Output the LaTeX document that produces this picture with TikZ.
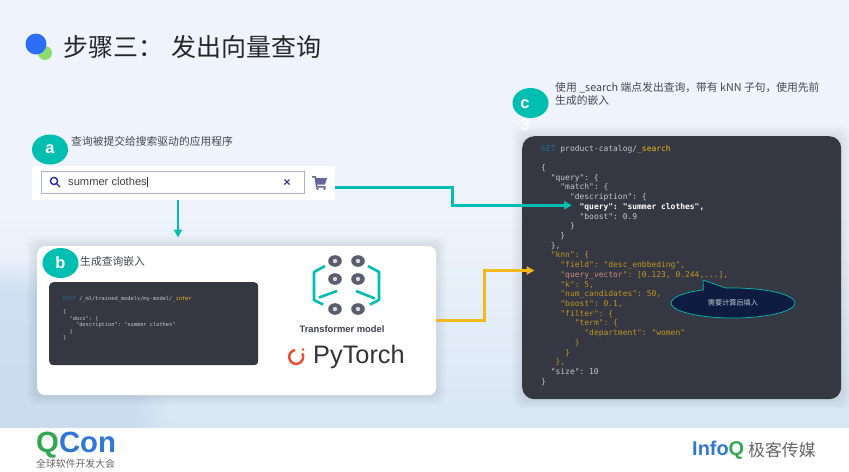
\documentclass[tikz,border=0pt]{standalone}
\usepackage{fontspec}
\setmainfont{Liberation Sans}
\setmonofont{DejaVu Sans Mono}
\newfontfamily\cjk{Noto Sans CJK SC}
\usetikzlibrary{arrows.meta,shapes.geometric,shapes.callouts,backgrounds,fadings}

\definecolor{bgtop}{HTML}{EEF3FC}
\definecolor{bgbottom}{HTML}{D8E7F4}
\definecolor{bgcorner}{HTML}{C4DAEE}
\definecolor{tealc}{HTML}{00BFB0}
\definecolor{goldc}{HTML}{F5B81C}
\definecolor{panelc}{HTML}{353742}
\definecolor{codegrey}{HTML}{C6C8CF}
\definecolor{codegold}{HTML}{C2961F}
\definecolor{codepink}{HTML}{CF8A7C}
\definecolor{codeblue}{HTML}{1F6C98}
\definecolor{navyc}{HTML}{0F1C42}
\definecolor{ringc}{HTML}{5A5D6E}
\definecolor{torchc}{HTML}{EE4C2C}
\definecolor{labelc}{HTML}{444750}
\definecolor{dotblue}{HTML}{2B6FF7}
\definecolor{dotgreen}{HTML}{8EDB6E}
\definecolor{logogreen}{HTML}{2FA84F}
\definecolor{logoblue}{HTML}{2F78D8}
\definecolor{boxline}{HTML}{A9AFD6}

\def\px{0.03cm}
\newcommand{\ind}[1]{\hspace*{\dimexpr #1\fontcharwd\font`0\relax}}
\newcommand{\softshadow}[1]{%
  \foreach \d in {2,4,...,10}
    \fill[black, opacity=0.014, rounded corners=10*\px]
      ([shift={(-\d,-\d)}]#1.north west) rectangle ([shift={(\d,\d)}]#1.south east);
}

\tikzset{
  badge/.style={ellipse, fill=tealc, text=white, inner sep=0, minimum width=36*\px, minimum height=30*\px, font=\fontsize{14}{14}\selectfont\bfseries},
  steplabel/.style={anchor=west, inner sep=0, text=labelc, font=\fontsize{9.2}{11.1}\selectfont\cjk, align=left},
  whitepanel/.style={anchor=north west, fill=white, inner sep=0},
  darkpanel/.style={anchor=north west, fill=panelc, inner sep=0, rounded corners=10*\px},
  codetext/.style={anchor=north west, inner sep=0, align=left, text=codegrey, font=\fontsize{6.8}{8.29}\selectfont\ttfamily},
  smallcode/.style={anchor=north west, inner sep=0, align=left, text=codegrey, font=\fontsize{4.55}{5.55}\selectfont\ttfamily},
  tealline/.style={draw=tealc, line width=2.9*\px, -{Triangle[length=8*\px, width=8*\px]}},
  goldline/.style={draw=goldc, line width=2.9*\px, -{Triangle[length=8*\px, width=8*\px]}},
  logoline/.style={draw=tealc, line width=2.6*\px, line join=round},
}

\begin{document}
\begin{tikzpicture}[x=0.03cm, y=-0.03cm]
  \useasboundingbox (0,0) rectangle (849,471);

  \begin{pgfonlayer}{background}
    \shade[top color=bgtop, bottom color=bgbottom, middle color=bgtop] (0,0) rectangle (849,428);
    \begin{scope}
      \clip (0,0) rectangle (849,428);
      \fill[bgcorner, path fading=circle with fuzzy edge 20 percent, opacity=0.7] (0,428) circle (170);
    \end{scope}
  \end{pgfonlayer}
  \fill[white] (0,428) rectangle (849,471);

  % title
  \fill[dotgreen] (45,53) circle (7);
  \fill[dotblue] (36,44) circle (10.5);
  \node[anchor=west, inner sep=0, text=black!85, font=\fontsize{21.3}{24}\selectfont\cjk] (title) at (63.5,47) {步骤三：\hspace{2pt} 发出向量查询};

  % step a
  \node[whitepanel, minimum width=303*\px, minimum height=34*\px] (searchbar) at (32,166) {};
  \node[anchor=north west, draw=boxline, fill=white, line width=0.9*\px, inner sep=0, minimum width=263*\px, minimum height=22*\px] (searchbox) at (41,171) {};
  \node[anchor=west, inner sep=0, text=black!75, font=\fontsize{9.5}{11}\selectfont] (searchtext) at (68,182) {summer clothes};
  \draw[black!80, line width=0.6*\px] (147.5,177) -- (147.5,187);
  \draw[blue!70!black!85, line width=1.4*\px] (54,181) circle (3.6) (57,184) -- (60,187);
  \draw[blue!40!black!75, line width=1.3*\px] (284.5,179.5) -- (289.5,184.5) (289.5,179.5) -- (284.5,184.5);
  \fill[gray!80!blue] (312,176) -- (315.5,176) -- (316.5,178) -- (327,178) -- (325,184.5) -- (317,184.5) -- (317.5,186) -- (325.5,186) -- (325.5,187.5) -- (316,187.5) -- (314.5,177.5) -- (312,177.5) -- cycle;
  \fill[gray!80!blue] (317.5,188.8) circle (1.4) (324.5,188.8) circle (1.4);
  \node[badge] (stepa) at (50,149.5) {a};
  \node[steplabel] (labela) at (71,141) {查询被提交给搜索驱动的应用程序};

  % step b
  \node[whitepanel, rounded corners=8*\px, minimum width=399*\px, minimum height=149*\px] (panelb) at (37,246) {};
  \node[darkpanel, rounded corners=4*\px, minimum width=209*\px, minimum height=83*\px] (codeb) at (49,282) {};
  \node[smallcode] (infer) at (63,296.2) {%
    \textcolor{codeblue}{POST} /\_ml/trained\_models/my-model/\textcolor{goldc}{\_infer}\\
    \mbox{}\\
    \{\\
    \ind{2}"docs": \{\\
    \ind{4}"description": "summer clothes"\\
    \ind{2}\}\\
    \}};
  \node[badge] (stepb) at (60.5,263) {b};
  \node[steplabel] (labelb) at (80,261.5) {生成查询嵌入};

  % transformer icon
  \foreach \cx in {335,358}
    \foreach \cy in {261,279,309} {
      \fill[ringc] (\cx,\cy) ellipse (6.8 and 5.8);
      \fill[black!15] (\cx,\cy) circle (2.2);
    }
  \draw[logoline] (325,266) -- (314,272) -- (314,300) -- (323,304.5);
  \draw[logoline] (337,291) -- (319,297.5);
  \draw[logoline] (368,266) -- (379,272) -- (379,300) -- (370,304.5);
  \draw[logoline] (356,291) -- (375,298.5);
  \node[inner sep=0, text=ringc!70!black, font=\fontsize{8}{10}\selectfont\bfseries] (transformer) at (342,329) {Transformer model};
  \draw[torchc, line width=2.4*\px] (295,350) arc[start angle=100, end angle=390, radius=0.21cm];
  \fill[torchc] (303,349.5) circle (1.3);
  \node[anchor=west, inner sep=0, text=black!80, font=\fontsize{21.6}{24}\selectfont] (pytorch) at (313,357) {PyTorch};

  % step c
  \node[darkpanel, rounded corners=12*\px, minimum width=319*\px, minimum height=263*\px] (panelc) at (522,136) {};
  \node[codetext] (searchcode) at (541,144.8) {%
    \textcolor{codeblue}{GET} product-catalog/\textcolor{goldc}{\_search}\\
    \mbox{}\\
    \{\\
    \ind{2}"query": \{\\
    \ind{4}"match": \{\\
    \ind{6}"description": \{\\
    \ind{8}\textcolor{white}{\bfseries"query": "summer clothes",}\\
    \ind{8}"boost": 0.9\\
    \ind{6}\}\\
    \ind{4}\}\\
    \ind{2}\},\\
    \textcolor{codegold}{\ind{2}"knn": \{}\\
    \textcolor{codegold}{\ind{4}"field": "desc\_enbbeding",}\\
    \textcolor{codegold}{\ind{4}"\textcolor{codepink}{query\_vector}": [0.123, 0.244,...],}\\
    \textcolor{codegold}{\ind{4}"k": 5,}\\
    \textcolor{codegold}{\ind{4}"num\_candidates": 50,}\\
    \textcolor{codegold}{\ind{4}"boost": 0.1,}\\
    \textcolor{codegold}{\ind{4}"filter": \{}\\
    \textcolor{codegold}{\ind{7}"term": \{}\\
    \textcolor{codegold}{\ind{9}"department": "women"}\\
    \textcolor{codegold}{\ind{7}\}}\\
    \textcolor{codegold}{\ind{5}\}}\\
    \textcolor{codegold}{\ind{3}\},}\\
    \ind{2}"size": 10\\
    \}};
  \node[ellipse callout, draw=tealc, fill=navyc, line width=0.7*\px, inner sep=0, minimum width=124*\px, minimum height=30*\px, callout absolute pointer={(703,280)}, callout pointer arc=22, text=codegrey, font=\fontsize{6.1}{7}\selectfont\cjk] (fillnote) at (733,303) {需要计算后填入};
  \node[badge] (stepc) at (530.5,103) {};
  \node[inner sep=0, text=white, align=center, font=\fontsize{14}{19}\selectfont\bfseries] (stepctext) at (525,115) {c\\3};
  \node[steplabel] (labelc) at (555,93.5) {使用 \_search 端点发出查询，带有 kNN 子句，使用先前\\生成的嵌入};

  % connectors
  \coordinate (embedin) at (178,237.5);
  \coordinate (matchin) at (572,205.3);
  \coordinate (knnin) at (534.5,270.5);
  \draw[tealline] (searchbar.south -| embedin) -- (embedin);
  \draw[tealline] ([yshift=-4.5*\px]searchbar.east) -- ++(117,0) |- (matchin);
  \draw[goldline] (panelb.east) -- ++(48,0) |- (knnin);

  % footer
  \node[anchor=west, inner sep=0, font=\fontsize{25}{27}\selectfont\bfseries] (qcon) at (36,445.5) {\textcolor{logogreen}{Q}\textcolor{logoblue}{Con}};
  \node[anchor=west, inner sep=0, text=black!60, font=\fontsize{8.4}{10}\selectfont\cjk] (qconsub) at (36,464) {全球软件开发大会};
  \node[anchor=west, inner sep=0, font=\fontsize{17}{19}\selectfont\bfseries] (infoq) at (692,450) {\textcolor{logoblue}{Info}\textcolor{logogreen}{Q}};
  \node[anchor=west, inner sep=0, text=black!60, font=\fontsize{14.4}{16}\selectfont\cjk] (geek) at (748,450) {极客传媒};

  \begin{pgfonlayer}{background}
    \softshadow{panelb}
    \softshadow{panelc}
    \softshadow{codeb}
  \end{pgfonlayer}
\end{tikzpicture}
\end{document}
